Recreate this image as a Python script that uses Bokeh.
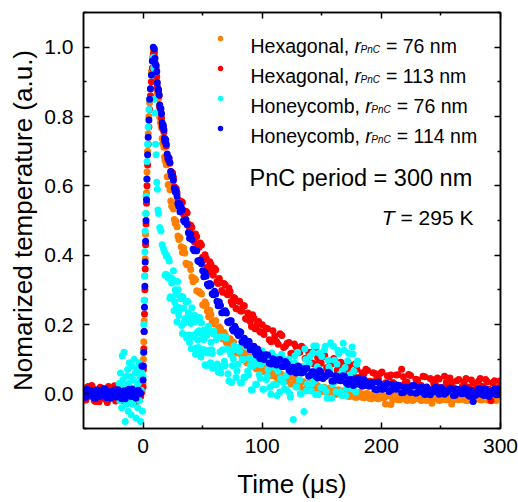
from bokeh.plotting import figure
from bokeh.models import LinearAxis, FixedTicker, NumeralTickFormatter, Label, Range1d, ColumnDataSource
from bokeh.embed import file_html
from bokeh.resources import INLINE

# ---------------- data ----------------
X_MIN, X_MAX = -50, 300
Y_MIN, Y_MAX = -0.1, 1.1
X_TICKS = [0, 100, 200, 300]
X_MINOR = [50, 150, 250]
Y_TICKS = [0.0, 0.2, 0.4, 0.6, 0.8, 1.0]
Y_MINOR = [-0.1, 0.1, 0.3, 0.5, 0.7, 0.9, 1.1]

# shared time grids (µs) for Hexagonal 76 / 113 nm and Honeycomb 114 nm
T_BASE = [-50, -48, -46, -44, -42, -40, -38, -36, -34, -32,
          -30, -28, -26, -24, -22, -20, -18, -16, -14, -12,
          -10, -8, -6, -4, -2, -1]
T_BASE2 = [-49, -47, -45, -43, -41, -39, -37, -35, -33, -31,
           -29, -27, -25, -23, -21, -19, -17, -15, -13, -11,
           -9, -7, -5, -3]
T_RISE = [0, 0.3, 0.6, 0.9, 1.2, 1.5, 1.8, 2.1, 2.5, 2.9,
          3.3, 3.8, 4.3, 4.9, 5.5, 6.2, 7.0, 7.8, 8.6]
T_EARLY = [9.5, 10.5, 11.5, 12.5, 13.5, 14.5, 15.5, 16.5, 17.5, 18.5,
           19.5, 21, 22.5, 24, 25.5, 27, 28.5, 30]
T_EARLY2 = [10, 11, 12, 13, 14, 15, 16, 17, 18, 19,
            20.25, 21.75, 23.25, 24.75, 26.25, 27.75, 29.25, 30.75]
T_MID = [32, 34, 36, 38, 40, 42, 44, 46, 48, 50,
         52, 54, 56, 58, 60, 62, 64, 66, 68, 70,
         72, 74, 76, 78, 80, 82, 84, 86, 88, 90,
         92, 94, 96, 98, 100]
T_MID2 = [31, 33, 35, 37, 39, 41, 43, 45, 47, 49,
          51, 53, 55, 57, 59, 61, 63, 65, 67, 69,
          71, 73, 75, 77, 79, 81, 83, 85, 87, 89,
          91, 93, 95, 97, 99]
T_LATE = [103, 106, 109, 112, 115, 118, 121, 124, 127, 130,
          133, 136, 139, 142, 145, 148, 151, 154, 157, 160,
          163, 166, 169, 172, 175, 178, 181, 184, 187, 190,
          193, 196, 199, 202, 205, 208, 211, 214, 217, 220,
          223, 226, 229, 232, 235, 238, 241, 244, 247, 250,
          253, 256, 259, 262, 265, 268, 271, 274, 277, 280,
          283, 286, 289, 292, 295, 298]
T_LATE2 = [101.5, 104.5, 107.5, 110.5, 113.5, 116.5, 119.5, 122.5, 125.5, 128.5,
           131.5, 134.5, 137.5, 140.5, 143.5, 146.5, 149.5, 152.5, 155.5, 158.5,
           161.5, 164.5, 167.5, 170.5, 173.5, 176.5, 179.5, 182.5, 185.5, 188.5,
           191.5, 194.5, 197.5, 200.5, 203.5, 206.5, 209.5, 212.5, 215.5, 218.5,
           221.5, 224.5, 227.5, 230.5, 233.5, 236.5, 239.5, 242.5, 245.5, 248.5,
           251.5, 254.5, 257.5, 260.5, 263.5, 266.5, 269.5, 272.5, 275.5, 278.5,
           281.5, 284.5, 287.5, 290.5, 293.5, 296.5, 299.5]

# Hexagonal, r = 76 nm (orange)
O_BASE = [0.003, -0.006, 0.005, -0.002, 0.006, -0.005, 0.001, 0.005, -0.007, 0.004,
          -0.003, 0.006, -0.005, 0.002, 0.005, -0.004, 0.007, -0.006, 0.003, -0.001,
          0.005, -0.006, 0.002, 0.004, -0.003, 0.005]
O_BASE2 = [-0.004, 0.005, -0.002, 0.005, -0.006, 0.003, -0.001, 0.006, -0.005, 0.002,
           0.004, -0.005, 0.006, -0.003, 0.001, 0.005, -0.004, 0.003, -0.006, 0.004,
           -0.002, 0.005, -0.004, 0.002]
O_RISE = [0.03, 0.10, 0.15, 0.21, 0.27, 0.34, 0.39, 0.46, 0.52, 0.58,
          0.64, 0.70, 0.75, 0.80, 0.84, 0.88, 0.93, 0.97, 0.99]
O_EARLY = [0.978, 0.922, 0.902, 0.852, 0.831, 0.782, 0.768, 0.722, 0.711, 0.672,
           0.661, 0.603, 0.589, 0.541, 0.533, 0.492, 0.482, 0.445]
O_EARLY2 = [0.947, 0.924, 0.868, 0.851, 0.798, 0.784, 0.737, 0.726, 0.683, 0.676,
            0.626, 0.604, 0.556, 0.547, 0.503, 0.497, 0.455, 0.450]
O_MID = [0.424, 0.421, 0.377, 0.374, 0.359, 0.323, 0.329, 0.295, 0.291, 0.257,
         0.265, 0.239, 0.241, 0.208, 0.210, 0.182, 0.193, 0.171, 0.177, 0.147,
         0.156, 0.136, 0.149, 0.121, 0.126, 0.127, 0.099, 0.113, 0.095, 0.107,
         0.080, 0.090, 0.072, 0.088, 0.067]
O_MID2 = [0.450, 0.408, 0.406, 0.372, 0.373, 0.337, 0.333, 0.297, 0.295, 0.288,
          0.255, 0.258, 0.222, 0.228, 0.202, 0.211, 0.188, 0.188, 0.158, 0.168,
          0.149, 0.159, 0.129, 0.136, 0.118, 0.132, 0.108, 0.117, 0.090, 0.104,
          0.089, 0.099, 0.072, 0.084, 0.066]
O_LATE = [0.076, 0.053, 0.070, 0.047, 0.058, 0.034, 0.046, 0.029, 0.045, 0.027,
          0.035, 0.013, 0.031, 0.014, 0.027, 0.006, 0.017, 0.004, 0.017, -0.003,
          0.011, -0.001, 0.009, -0.007, 0.005, -0.010, 0.004, -0.010, 0.000, -0.013,
          -0.001, -0.013, -0.001, -0.012, -0.006, -0.031, -0.003, -0.017, -0.006, -0.015,
          -0.002, -0.019, -0.007, -0.015, -0.004, -0.019, -0.006, -0.014, -0.005, -0.018,
          -0.007, -0.016, -0.029, -0.005, -0.017, -0.008, -0.019, -0.006, -0.015, -0.004,
          -0.017, -0.007, -0.018, -0.006, -0.014, -0.005]
O_LATE2 = [0.064, 0.076, 0.052, 0.062, 0.040, 0.055, 0.038, 0.049, 0.028, 0.038,
           0.020, 0.035, 0.018, 0.030, 0.011, 0.023, 0.005, 0.018, 0.003, 0.016,
           -0.002, 0.011, -0.004, 0.009, -0.008, 0.005, -0.010, 0.002, -0.011, 0.001,
           -0.014, -0.002, -0.014, -0.004, -0.029, -0.003, -0.017, -0.005, -0.017, -0.004,
           -0.019, -0.006, -0.016, -0.004, -0.019, -0.006, -0.016, -0.027, -0.005, -0.019,
           -0.007, -0.017, -0.004, -0.018, -0.006, -0.016, -0.005, -0.019, -0.007, -0.017,
           -0.004, -0.018, -0.006, -0.016, -0.005, -0.019, -0.007]

# Hexagonal, r = 113 nm (red)
R_BASE = [0.012, -0.018, 0.021, -0.006, 0.015, -0.022, 0.004, 0.019, -0.013, 0.008,
          -0.025, 0.017, -0.004, 0.023, -0.015, 0.006, -0.020, 0.013, -0.009, 0.020,
          -0.017, 0.010, -0.024, 0.016, -0.008, 0.005]
R_BASE2 = [-0.014, 0.019, -0.007, 0.024, -0.019, 0.009, -0.023, 0.015, 0.002, -0.016,
           0.021, -0.011, 0.007, -0.021, 0.018, -0.003, 0.012, -0.018, 0.022, -0.010,
           0.014, -0.020, 0.008, -0.015]
R_RISE = [0.02, 0.07, 0.13, 0.18, 0.23, 0.30, 0.36, 0.43, 0.49, 0.55,
          0.60, 0.66, 0.72, 0.77, 0.82, 0.86, 0.90, 0.94, 0.98]
R_EARLY = [0.985, 0.94, 0.915, 0.875, 0.86, 0.815, 0.795, 0.765, 0.755, 0.725,
           0.715, 0.675, 0.665, 0.635, 0.625, 0.585, 0.58, 0.555]
R_EARLY2 = [0.955, 0.938, 0.886, 0.872, 0.826, 0.812, 0.771, 0.768, 0.731, 0.728,
            0.687, 0.679, 0.641, 0.638, 0.597, 0.592, 0.560, 0.557]
R_MID = [0.555, 0.518, 0.527, 0.489, 0.486, 0.450, 0.461, 0.429, 0.435, 0.394,
         0.401, 0.365, 0.381, 0.350, 0.362, 0.323, 0.333, 0.298, 0.318, 0.290,
         0.305, 0.266, 0.278, 0.246, 0.267, 0.239, 0.255, 0.217, 0.233, 0.209,
         0.228, 0.188, 0.205, 0.180, 0.199]
R_MID2 = [0.540, 0.553, 0.514, 0.522, 0.473, 0.480, 0.439, 0.454, 0.423, 0.429,
          0.386, 0.391, 0.355, 0.373, 0.342, 0.358, 0.318, 0.322, 0.293, 0.314,
          0.286, 0.295, 0.258, 0.276, 0.245, 0.267, 0.239, 0.254, 0.215, 0.226,
          0.194, 0.219, 0.194, 0.209, 0.178]
R_LATE = [0.190, 0.156, 0.182, 0.151, 0.173, 0.134, 0.146, 0.116, 0.144, 0.120,
          0.137, 0.102, 0.120, 0.089, 0.123, 0.091, 0.106, 0.075, 0.091, 0.102,
          0.069, 0.091, 0.053, 0.077, 0.058, 0.086, 0.047, 0.061, 0.071, 0.036,
          0.061, 0.042, 0.059, 0.027, 0.052, 0.054, 0.029, 0.055, 0.071, 0.033,
          0.056, 0.022, 0.042, 0.025, 0.051, 0.018, 0.044, 0.030, 0.046, 0.018,
          0.051, 0.022, 0.035, 0.014, 0.041, 0.022, 0.044, 0.016, 0.031, 0.018,
          0.044, 0.012, 0.035, -0.020, 0.038, 0.018]
R_LATE2 = [0.171, 0.188, 0.150, 0.167, 0.143, 0.168, 0.138, 0.148, 0.116, 0.135,
           0.120, 0.132, 0.099, 0.119, 0.086, 0.105, 0.088, 0.110, 0.076, 0.086,
           0.093, 0.060, 0.081, 0.065, 0.084, 0.054, 0.071, 0.044, 0.059, 0.067,
           0.035, 0.059, 0.043, 0.063, 0.032, 0.049, 0.033, 0.054, 0.023, 0.049,
           0.034, 0.053, 0.023, 0.040, 0.024, 0.049, 0.015, 0.041, 0.026, 0.043,
           0.017, 0.033, 0.046, 0.018, 0.038, 0.013, 0.034, 0.020, 0.040, 0.010,
           0.036, 0.022, 0.041, 0.013, 0.032, 0.016, 0.037]

# Honeycomb, r = 114 nm (blue)
B_BASE = [0.008, -0.010, 0.012, -0.004, 0.006, -0.013, 0.010, -0.007, 0.003, 0.014,
          -0.011, 0.005, -0.002, 0.011, -0.009, 0.007, -0.014, 0.009, -0.005, 0.013,
          -0.008, 0.004, -0.012, 0.010, 0.002, 0.08]
B_BASE2 = [-0.009, 0.013, -0.003, 0.008, -0.012, 0.011, -0.006, 0.004, 0.015, -0.010,
           0.006, -0.013, 0.009, -0.001, 0.012, -0.008, 0.005, -0.014, 0.010, -0.004,
           0.013, -0.009, 0.007, 0.003]
B_RISE = [0.04, 0.08, 0.12, 0.18, 0.25, 0.31, 0.38, 0.44, 0.50, 0.56,
          0.62, 0.69, 0.74, 0.79, 0.85, 0.88, 0.92, 0.96, 1.0]
B_EARLY = [0.995, 0.95, 0.93, 0.878, 0.862, 0.823, 0.808, 0.772, 0.762, 0.728,
           0.72, 0.678, 0.667, 0.628, 0.616, 0.583, 0.571, 0.541]
B_EARLY2 = [0.968, 0.947, 0.897, 0.878, 0.833, 0.822, 0.782, 0.775, 0.737, 0.733,
            0.692, 0.680, 0.641, 0.630, 0.593, 0.586, 0.549, 0.548]
B_MID = [0.538, 0.500, 0.502, 0.465, 0.460, 0.418, 0.414, 0.384, 0.386, 0.355,
         0.351, 0.316, 0.318, 0.289, 0.296, 0.267, 0.265, 0.234, 0.237, 0.233,
         0.205, 0.211, 0.181, 0.188, 0.168, 0.178, 0.149, 0.153, 0.152, 0.127,
         0.137, 0.120, 0.129, 0.102, 0.113]
B_MID2 = [0.525, 0.531, 0.496, 0.488, 0.449, 0.445, 0.413, 0.413, 0.381, 0.375,
          0.338, 0.340, 0.311, 0.315, 0.286, 0.288, 0.254, 0.255, 0.234, 0.240,
          0.208, 0.211, 0.186, 0.195, 0.175, 0.180, 0.150, 0.160, 0.140, 0.151,
          0.130, 0.137, 0.112, 0.121, 0.103]
B_LATE = [0.113, 0.088, 0.101, 0.083, 0.099, 0.079, 0.087, 0.064, 0.076, 0.080,
          0.060, 0.073, 0.051, 0.064, 0.051, 0.067, 0.044, 0.053, 0.057, 0.037,
          0.051, 0.038, 0.051, 0.027, 0.041, 0.028, 0.044, 0.022, 0.034, 0.022,
          0.033, 0.012, 0.028, 0.014, 0.030, 0.010, 0.020, 0.025, 0.003, 0.019,
          0.009, 0.024, 0.002, 0.018, 0.004, 0.020, -0.003, 0.014, 0.005, 0.018,
          -0.001, 0.009, 0.015, -0.004, 0.012, 0.000, 0.015, -0.007, -0.022, -0.002,
          0.015, -0.005, 0.009, 0.001, 0.014, -0.002]
B_LATE2 = [0.099, 0.112, 0.086, 0.097, 0.098, 0.079, 0.093, 0.069, 0.077, 0.060,
           0.076, 0.062, 0.074, 0.054, 0.063, 0.046, 0.062, 0.049, 0.062, 0.037,
           0.052, 0.039, 0.052, 0.032, 0.041, 0.024, 0.043, 0.026, 0.041, 0.023,
           0.032, 0.014, 0.034, 0.013, 0.023, 0.007, 0.027, 0.013, 0.023, 0.004,
           0.018, 0.004, 0.024, 0.005, 0.019, -0.002, 0.013, 0.004, 0.019, -0.001,
           0.013, 0.003, 0.016, -0.005, 0.013, 0.002, 0.017, -0.003, 0.010, -0.005,
           0.013, -0.002, 0.015, -0.008, 0.008, -0.003, 0.014]

# Honeycomb, r = 76 nm (cyan) - own time grid, ends near 180 µs
C_T_BASE = [-20, -19.5, -19, -18.5, -18, -17.5, -17, -16.5, -16, -15.5,
            -15, -14.5, -14, -13.5, -13, -12.5, -12, -11.5, -11, -10.5,
            -10, -9.5, -9, -8.5, -8, -7.5, -7, -6.5, -6, -5.5,
            -5, -4.5, -4, -3.5, -3, -2.5, -2, -1.5, -1, -0.5]
C_V_BASE = [0.03, -0.02, 0.06, 0.01, -0.04, 0.11, 0.04, -0.01, 0.12, 0.02,
            -0.08, 0.05, -0.03, 0.00, 0.07, -0.05, 0.03, 0.09, -0.02, 0.05,
            -0.06, 0.01, 0.08, -0.03, 0.04, 0.10, -0.01, 0.06, -0.07, 0.02,
            0.07, -0.04, 0.03, 0.09, -0.02, 0.05, -0.08, 0.01, 0.06, -0.05]
C_T_RISE = [0, 0.3, 0.6, 0.9, 1.2, 1.5, 1.8, 2.1, 2.5, 2.9,
            3.3, 3.8, 4.3, 4.9, 5.5, 6.2, 7.0, 7.8]
C_V_RISE = [0.05, 0.12, 0.20, 0.27, 0.34, 0.41, 0.47, 0.52, 0.57, 0.62,
            0.67, 0.72, 0.77, 0.82, 0.85, 0.88, 0.92, 0.96]
C_T_PEAK = [8.5, 9, 9.5, 10, 10.5, 11, 11.5, 12, 12.5, 13, 14, 15, 16, 17]
C_V_PEAK = [0.97, 0.94, 0.85, 0.81, 0.72, 0.69, 0.61, 0.59, 0.53, 0.52, 0.48, 0.47, 0.43, 0.42]
C_T_MID = [18, 19, 20, 21, 22, 23, 24, 25, 26, 27,
           28, 29, 30, 31, 32, 33, 34, 35, 36, 37,
           38, 39, 40, 41, 42, 43, 44, 45, 46, 47,
           48, 49, 50, 51, 52, 53, 54, 55, 56, 57,
           58, 59, 60]
C_V_MID = [0.41, 0.345, 0.40, 0.335, 0.383, 0.28, 0.32, 0.33, 0.24, 0.30,
           0.252, 0.324, 0.226, 0.248, 0.281, 0.174, 0.247, 0.211, 0.265, 0.169,
           0.233, 0.148, 0.203, 0.248, 0.163, 0.208, 0.114, 0.210, 0.156, 0.182,
           0.118, 0.204, 0.120, 0.157, 0.084, 0.181, 0.118, 0.195, 0.082, 0.149,
           0.116, 0.173, 0.080]
C_T_MID2 = [18.5, 19.5, 20.5, 21.5, 22.5, 23.5, 24.5, 25.5, 26.5, 27.5,
            28.5, 29.5, 30.5, 31.5, 32.5, 33.5, 34.5, 35.5, 36.5, 37.5,
            38.5, 39.5, 40.5, 41.5, 42.5, 43.5, 44.5, 45.5, 46.5, 47.5,
            48.5, 49.5, 50.5, 51.5, 52.5, 53.5, 54.5, 55.5, 56.5, 57.5,
            58.5, 59.5]
C_V_MID2 = [0.342, 0.397, 0.342, 0.389, 0.276, 0.335, 0.275, 0.355, 0.265, 0.286,
            0.208, 0.300, 0.242, 0.274, 0.197, 0.280, 0.204, 0.218, 0.162, 0.266,
            0.170, 0.215, 0.130, 0.225, 0.170, 0.226, 0.132, 0.178, 0.134, 0.220,
            0.106, 0.172, 0.128, 0.185, 0.082, 0.169, 0.126, 0.183, 0.090, 0.127,
            0.074, 0.181]
C_T_LATE = [61.5, 63, 64.5, 66, 67.5, 69, 70.5, 72, 73.5, 75,
            76.5, 78, 79.5, 81, 82.5, 84, 85.5, 87, 88.5, 90,
            91.5, 93, 94.5, 96, 97.5, 99, 100.5, 102, 103.5, 105,
            106.5, 108, 109.5, 111, 112.5, 114, 115.5, 117, 118.5, 120,
            121.5, 123, 124.5, 126, 127.5, 129, 130.5, 132, 133.5, 135,
            136.5, 138, 139.5, 141, 142.5, 144, 145.5, 147, 148.5, 150,
            151.5, 153, 154.5, 156, 157.5, 159, 160.5, 162, 163.5, 165,
            166.5, 168, 169.5, 171, 172.5, 174, 175.5, 177, 178.5, 180]
C_V_LATE = [0.157, 0.064, 0.121, 0.078, 0.165, 0.082, 0.129, 0.037, 0.114, 0.082,
            0.139, 0.047, 0.085, 0.123, 0.031, 0.099, 0.047, 0.135, 0.054, 0.082,
            0.011, 0.099, 0.028, 0.117, 0.055, 0.084, 0.013, 0.102, 0.041, 0.070,
            0.019, 0.118, 0.027, 0.076, -0.005, 0.085, 0.044, 0.103, 0.013, 0.052,
            0.092, 0.001, 0.071, -0.074, 0.110, 0.020, 0.060, 0.000, 0.079, -0.051,
            0.099, 0.029, 0.088, 0.008, 0.118, 0.038, 0.138, -0.002, 0.068, 0.108,
            0.017, 0.137, -0.013, 0.077, 0.147, 0.027, 0.097, 0.006, 0.126, 0.056,
            -0.004, 0.146, 0.076, 0.016, 0.116, 0.036, 0.135, 0.065, 0.005, 0.095]
C_T_LATE2 = [62.25, 63.75, 65.25, 66.75, 68.25, 69.75, 71.25, 72.75, 74.25, 75.75,
             77.25, 78.75, 80.25, 81.75, 83.25, 84.75, 86.25, 87.75, 89.25, 90.75,
             92.25, 93.75, 95.25, 96.75, 98.25, 99.75, 101.25, 102.75, 104.25, 105.75,
             107.25, 108.75, 110.25, 111.75, 113.25, 114.75, 116.25, 117.75, 119.25, 120.75,
             122.25, 123.75, 125.25, 126.75, 128.25, 129.75, 131.25, 132.75, 134.25, 135.75,
             137.25, 138.75, 140.25, 141.75, 143.25, 144.75, 146.25, 147.75, 149.25, 150.75,
             152.25, 153.75, 155.25, 156.75, 158.25, 159.75, 161.25, 162.75, 164.25, 165.75,
             167.25, 168.75, 170.25, 171.75, 173.25, 174.75, 176.25, 177.75, 179.25]
C_V_LATE2 = [0.086, 0.163, 0.060, 0.127, 0.094, 0.161, 0.058, 0.126, 0.033, 0.101,
             0.128, 0.066, 0.134, 0.032, 0.100, 0.048, 0.136, 0.065, 0.103, 0.012,
             0.080, 0.119, 0.027, 0.086, 0.045, 0.124, 0.013, 0.092, 0.051, 0.100,
             -0.001, 0.078, 0.107, 0.026, 0.065, 0.005, 0.114, 0.033, 0.083, 0.012,
             0.100, -0.010, 0.070, 0.090, 0.020, 0.120, 0.040, 0.000, 0.079, 0.129,
             0.009, 0.059, 0.109, 0.029, 0.138, -0.002, 0.078, 0.118, 0.018, 0.048,
             0.127, 0.007, 0.097, 0.067, -0.013, 0.137, 0.036, 0.086, 0.116, 0.006,
             0.066, 0.126, -0.005, 0.095, 0.055, 0.015, 0.115, 0.025, 0.085]

LEGEND_SHAPES = ["Hexagonal", "Hexagonal", "Honeycomb", "Honeycomb"]
LEGEND_RADII = ["76", "113", "76", "114"]
COLORS = ["#FF7F00", "#FF0000", "#00FFFF", "#0000FF"]
PERIOD_TEXT = "PnC period = 300 nm"
TEMP_TEXT = "= 295 K"

# ---------------- layout ----------------
W, H = 518, 502
FX0, FX1, FY0, FY1 = 83, 500, 12, 428   # plot frame in pixels
FONT = "Liberation Sans"


def dx(px):
    return X_MIN + (px - FX0) / (FX1 - FX0) * (X_MAX - X_MIN)


def dy(py):
    return Y_MAX - (py - FY0) / (FY1 - FY0) * (Y_MAX - Y_MIN)


ARIAL_W = {' ': 278, ',': 278, '.': 278, '=': 584, 'H': 722, 'e': 556, 'x': 500, 'a': 556,
           'g': 556, 'o': 556, 'n': 556, 'l': 222, 'y': 500, 'c': 500, 'm': 833, 'b': 556,
           'P': 667, 'C': 722, 'r': 333, 'K': 667, 'T': 611, 'p': 556, 'i': 222, 'd': 556}


def tw(s, size):
    return sum(ARIAL_W.get(ch, 556) for ch in s) * size / 1000.0


p = figure(width=W, height=H, x_range=Range1d(X_MIN, X_MAX), y_range=Range1d(Y_MIN, Y_MAX),
           output_backend="svg", toolbar_location=None,
           min_border_left=FX0, min_border_right=W - FX1, min_border_top=FY0, min_border_bottom=H - FY1,
           background_fill_color="white", border_fill_color="white")
p.grid.visible = False
p.outline_line_color = "black"
p.outline_line_width = 1.5

xt = FixedTicker(ticks=X_TICKS, minor_ticks=X_MINOR)
yt = FixedTicker(ticks=Y_TICKS, minor_ticks=Y_MINOR)


def style_axis(ax, show_labels, ticks=None):
    ax.axis_line_color = "black"
    ax.axis_line_width = 1.5
    ax.major_tick_in = 6
    ax.major_tick_out = 0
    ax.minor_tick_in = 3
    ax.minor_tick_out = 0
    ax.major_tick_line_color = "black"
    ax.minor_tick_line_color = "black"
    ax.major_tick_line_width = 1.5
    ax.minor_tick_line_width = 1.5
    if show_labels:
        ax.major_label_text_font = FONT
        ax.major_label_text_font_size = "21px"
        ax.major_label_text_color = "black"
        ax.major_label_text_line_height = 1.0
        ax.axis_label_text_font = FONT
        ax.axis_label_text_font_size = "26px"
        ax.axis_label_text_font_style = "normal"
        ax.axis_label_text_color = "black"
        ax.axis_label_text_line_height = 1.0
    else:
        ax.major_label_overrides = {t: "" for t in ticks}
        ax.major_label_standoff = 0


bx = p.below[0]
bx.ticker = xt
bx.axis_label = "Time (μs)"
style_axis(bx, True)
bx.major_label_standoff = 10
bx.axis_label_standoff = 13

ly = p.left[0]
ly.ticker = yt
ly.formatter = NumeralTickFormatter(format="0.0")
ly.axis_label = "Nomarized temperature (a.u.)"
style_axis(ly, True)
ly.major_label_standoff = 10
ly.axis_label_standoff = 3

top = LinearAxis(ticker=xt)
style_axis(top, False, X_TICKS)
p.add_layout(top, "above")
right = LinearAxis(ticker=yt)
style_axis(right, False, Y_TICKS)
p.add_layout(right, "right")

# ---------------- data marks ----------------
T_ALL = T_BASE + T_BASE2 + T_RISE + T_EARLY + T_EARLY2 + T_MID + T_MID2 + T_LATE + T_LATE2
series = [
    (T_ALL, O_BASE + O_BASE2 + O_RISE + O_EARLY + O_EARLY2 + O_MID + O_MID2 + O_LATE + O_LATE2),
    (T_ALL, R_BASE + R_BASE2 + R_RISE + R_EARLY + R_EARLY2 + R_MID + R_MID2 + R_LATE + R_LATE2),
    (C_T_BASE + C_T_RISE + C_T_PEAK + C_T_MID + C_T_MID2 + C_T_LATE + C_T_LATE2,
     C_V_BASE + C_V_RISE + C_V_PEAK + C_V_MID + C_V_MID2 + C_V_LATE + C_V_LATE2),
    (T_ALL, B_BASE + B_BASE2 + B_RISE + B_EARLY + B_EARLY2 + B_MID + B_MID2 + B_LATE + B_LATE2),
]
for (ts, vs), col in zip(series, COLORS):
    n = min(len(ts), len(vs))
    src = ColumnDataSource(dict(t=ts[:n], v=vs[:n]))
    p.scatter("t", "v", source=src, marker="circle", size=7, fill_color=col, line_color=None)

# ---------------- legend (manual, for the subscripts) ----------------
LEG_MARK_X = 220
LEG_ROW0 = 38
LEG_DY = 30
LEG_TEXT_X = 250
MAIN_SIZE = 19.5
SUB_SIZE = 10

leg_src = ColumnDataSource(dict(
    x=[dx(LEG_MARK_X)] * 4,
    y=[dy(LEG_ROW0 + i * LEG_DY) for i in range(4)],
    c=COLORS))
p.scatter("x", "y", source=leg_src, marker="circle", size=5.5, fill_color="c", line_color=None)


def add_text(px, py, text, size, style="normal", align="left"):
    p.add_layout(Label(x=dx(px), y=dy(py), text=text, text_font=FONT,
                       text_font_size=f"{size}px", text_font_style=style,
                       text_color="black", text_baseline="alphabetic", text_align=align))


for i, (shape, rad) in enumerate(zip(LEGEND_SHAPES, LEGEND_RADII)):
    base = LEG_ROW0 + i * LEG_DY + 7
    x = LEG_TEXT_X
    add_text(x, base, f"{shape},", MAIN_SIZE)
    x += tw(f"{shape}, ", MAIN_SIZE)
    add_text(x, base, "r", MAIN_SIZE, "italic")
    x += tw("r", MAIN_SIZE) - 0.5
    add_text(x, base + 4, "PnC", SUB_SIZE, "italic")
    x += tw("PnC", SUB_SIZE) + 0.5 + tw(" ", MAIN_SIZE)
    add_text(x, base, f"= {rad} nm", MAIN_SIZE)

add_text(249, 177, PERIOD_TEXT, 23.5)
TEMP_SIZE = 21
TEMP_RIGHT = 473
add_text(TEMP_RIGHT, 217, TEMP_TEXT, TEMP_SIZE, align="right")
add_text(TEMP_RIGHT - tw(" " + TEMP_TEXT, TEMP_SIZE), 217, "T", TEMP_SIZE, "italic", align="right")

open("out.html", "w").write(file_html(p, INLINE))
